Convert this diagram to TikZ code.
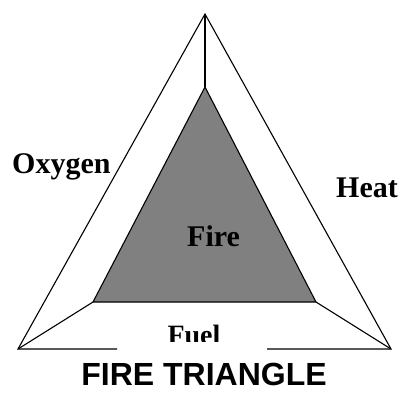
\documentclass[tikz,border=0pt]{standalone}
\usepackage{fontspec}
\setmainfont{Liberation Serif}
\newfontfamily\titlefont{Liberation Sans}
\usepackage{tikz}
\usetikzlibrary{positioning}

\begin{document}
\begin{tikzpicture}[
  x=1pt, y=-1pt,
  edge/.style={draw=black, line width=1.1pt, line join=miter},
  label/.style={inner sep=0pt, font=\fontsize{30}{36}\selectfont\bfseries},
  title/.style={inner sep=0pt, font=\titlefont\fontsize{32}{38}\selectfont\bfseries}
]
\useasboundingbox (0,0) rectangle (404,392);

% corners of the outer and inner triangles
\coordinate (otop) at (205,14);
\coordinate (oleft) at (18,349);
\coordinate (oright) at (391,349);
\coordinate (itop) at (205,87);
\coordinate (ileft) at (93,302);
\coordinate (iright) at (316,302);
\coordinate (gapl) at (117,349);
\coordinate (gapr) at (267,349);

\fill[black!50] (itop) -- (ileft) -- (iright) -- cycle;
\draw[edge] (itop) -- (ileft) -- (iright) -- cycle;

\draw[edge] (gapl) -- (oleft) -- (otop) -- (oright) -- (gapr);
\draw[edge] (otop) -- (itop);
\draw[edge] (oleft) -- (ileft);
\draw[edge] (oright) -- (iright);

\node[label, anchor=base west] (oxygen) at (12,173) {Oxygen};
\node[label, anchor=base west] (heat) at (336,197) {Heat};
\node[label, anchor=base west] (fire) at (187,246) {Fire};
\begin{scope}
  \clip (117,300) rectangle (267,341);
  \node[label, anchor=base, font=\fontsize{28}{34}\selectfont\bfseries] (fuel) at (194,344) {Fuel};
\end{scope}

\node[title, anchor=base] (caption) at (204,385) {FIRE TRIANGLE};
\end{tikzpicture}
\end{document}
